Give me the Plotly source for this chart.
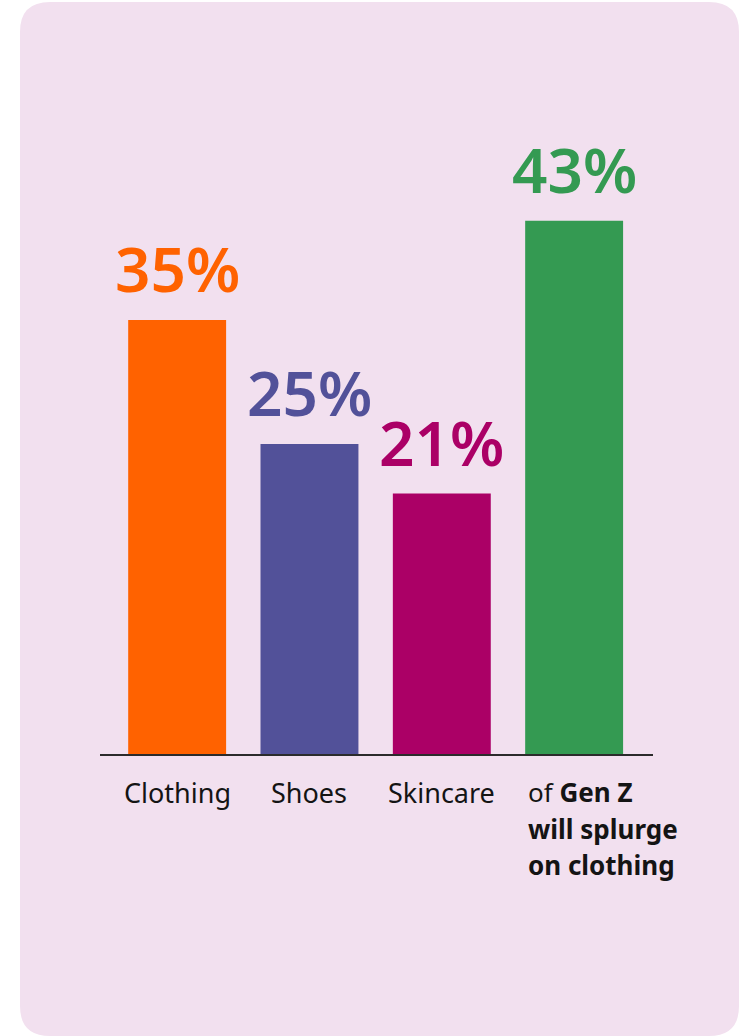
import plotly.graph_objects as go

# Survey shares by category
categories = ["Clothing", "Shoes", "Skincare", "Gen Z"]
values = [35, 25, 21, 43]
value_labels = ["35%", "25%", "21%", "43%"]
bar_colors = ["#FF6200", "#525199", "#AB0066", "#349A52"]
axis_labels = ["Clothing", "Shoes", "Skincare"]
genz_lines = ["of <b>Gen Z</b>", "<b>will splurge</b>", "<b>on clothing</b>"]

W, H = 744, 1036
ML, MR, MT, MB = 100, 91, 134, 282
PW, PH = W - ML - MR, H - MT - MB

FONT = "Noto Sans"
CARD = "#F2E0EF"


def px(x):
    return (x - ML) / PW


def py(y):
    return (H - MB - y) / PH


def rounded_rect(x0, y0, x1, y1, r):
    return (
        f"M {px(x0 + r)} {py(y0)} L {px(x1 - r)} {py(y0)} "
        f"Q {px(x1)} {py(y0)} {px(x1)} {py(y0 + r)} "
        f"L {px(x1)} {py(y1 - r)} "
        f"Q {px(x1)} {py(y1)} {px(x1 - r)} {py(y1)} "
        f"L {px(x0 + r)} {py(y1)} "
        f"Q {px(x0)} {py(y1)} {px(x0)} {py(y1 - r)} "
        f"L {px(x0)} {py(y0 + r)} "
        f"Q {px(x0)} {py(y0)} {px(x0 + r)} {py(y0)} Z"
    )


fig = go.Figure(
    go.Bar(
        x=categories,
        y=values,
        marker=dict(color=bar_colors, line=dict(width=0)),
        width=0.74,
        hoverinfo="skip",
    )
)

annotations = []
for cat, val, lab, col in zip(categories, values, value_labels, bar_colors):
    annotations.append(dict(
        x=cat, y=val, xref="x", yref="y", text=lab, showarrow=False,
        xanchor="center", yanchor="bottom", yshift=8,
        font=dict(family=FONT, size=62, color=col, weight=600),
    ))

for cat, lab in zip(categories, axis_labels):
    annotations.append(dict(
        x=cat, y=0, xref="x", yref="y", text=lab, showarrow=False,
        xanchor="center", yanchor="middle", yshift=-38,
        font=dict(family=FONT, size=27, color="#141414"),
    ))

for i, line in enumerate(genz_lines):
    annotations.append(dict(
        x=categories[3], y=0, xref="x", yref="y", text=line, showarrow=False,
        xanchor="left", yanchor="middle", xshift=-48, yshift=-38 - 36.5 * i,
        align="left",
        font=dict(family=FONT, size=26, color="#141414"),
    ))

fig.update_layout(
    width=W, height=H,
    margin=dict(l=ML, r=MR, t=MT, b=MB, pad=0),
    paper_bgcolor="white",
    plot_bgcolor="rgba(0,0,0,0)",
    showlegend=False,
    annotations=annotations,
    shapes=[dict(
        type="path", xref="paper", yref="paper", layer="below",
        path=rounded_rect(20, 2, 739, 1036, 30),
        fillcolor=CARD, line=dict(width=0),
    )],
    xaxis=dict(
        range=[-0.583, 3.596], showgrid=False, zeroline=False,
        showticklabels=False, ticks="", showline=True,
        linecolor="#2B2B2B", linewidth=1.5, fixedrange=True,
    ),
    yaxis=dict(
        range=[0, 50], showgrid=False, zeroline=False,
        showticklabels=False, ticks="", showline=False, fixedrange=True,
    ),
)

fig.write_html("out.html", config={"displayModeBar": False})
